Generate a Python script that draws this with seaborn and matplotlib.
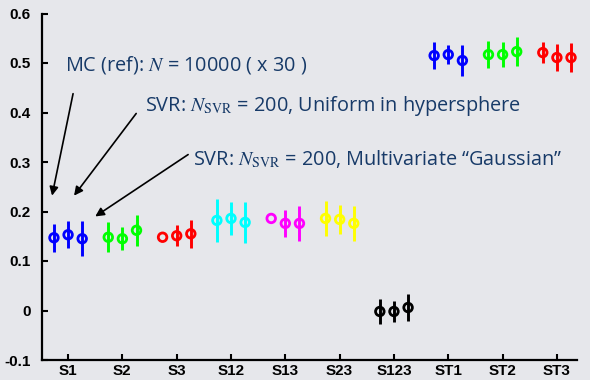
import matplotlib
matplotlib.use("Agg")
import matplotlib.pyplot as plt
import pandas as pd
import seaborn as sns

# Sensitivity indices and their colours
indices = ["S1", "S2", "S3", "S12", "S13", "S23", "S123", "ST1", "ST2", "ST3"]
colors = ["#0000ff", "#00ff00", "#ff0000", "#00ffff", "#ff00ff",
          "#ffff00", "#000000", "#0000ff", "#00ff00", "#ff0000"]

# Estimates (mean) and half-width of the spread for each method
mc_mean = [0.147, 0.148, 0.148, 0.182, 0.186, 0.186, -0.002, 0.515, 0.517, 0.521]
mc_err = [0.028, 0.030, 0.000, 0.043, 0.000, 0.035, 0.026, 0.028, 0.027, 0.022]
uni_mean = [0.153, 0.145, 0.151, 0.186, 0.176, 0.184, -0.002, 0.517, 0.517, 0.511]
uni_err = [0.027, 0.023, 0.021, 0.033, 0.028, 0.030, 0.021, 0.019, 0.026, 0.028]
gau_mean = [0.145, 0.162, 0.155, 0.178, 0.176, 0.176, 0.006, 0.505, 0.523, 0.511]
gau_err = [0.035, 0.031, 0.028, 0.042, 0.036, 0.035, 0.028, 0.031, 0.029, 0.029]

y_ticks = [-0.1, 0.0, 0.1, 0.2, 0.3, 0.4, 0.5, 0.6]
y_tick_labels = ["-0.1", "0", "0.1", "0.2", "0.3", "0.4", "0.5", "0.6"]

methods = ["mc", "uniform", "gauss"]
offsets = {"mc": -0.26, "uniform": 0.0, "gauss": 0.26}

rows = []
for m, means, errs in zip(methods, [mc_mean, uni_mean, gau_mean], [mc_err, uni_err, gau_err]):
    for i, (name, v, e) in enumerate(zip(indices, means, errs)):
        rows.append({"index": name, "method": m, "pos": i + 1 + offsets[m],
                     "value": v, "err": e})
df = pd.DataFrame(rows)

sns.set_theme(style="white")
bg = "#e6e7eb"
plt.rcParams["mathtext.fontset"] = "stix"

fig = plt.figure(figsize=(5.9, 3.8), dpi=100, facecolor=bg)
ax = fig.add_axes([42 / 590, 20 / 380, 535 / 590, 346.5 / 380])
ax.set_facecolor(bg)

palette = dict(zip(indices, colors))

# error bars
for _, r in df.iterrows():
    if r["err"] > 0:
        ax.vlines(r["pos"], r["value"] - r["err"], r["value"] + r["err"],
                  color=palette[r["index"]], lw=2.1, zorder=2)

# circle markers, coloured by index, then made hollow
sns.scatterplot(data=df, x="pos", y="value", hue="index", palette=palette,
                marker="o", s=38, linewidth=2.0, legend=False, ax=ax, zorder=3)
pts = ax.collections[-1]
fc = pts.get_facecolors()
pts.set_edgecolors(fc)
pts.set_facecolors("none")

ax.set_xlim(0.52, 10.37)
ax.set_ylim(-0.1, 0.6)
ax.set_xticks(range(1, len(indices) + 1))
ax.set_xticklabels(indices)
ax.set_yticks(y_ticks)
ax.set_yticklabels(y_tick_labels)
ax.set_xlabel("")
ax.set_ylabel("")

for side in ["top", "right"]:
    ax.spines[side].set_visible(False)
for side in ["left", "bottom"]:
    ax.spines[side].set_color("black")
    ax.spines[side].set_linewidth(1.6)

ax.tick_params(axis="both", direction="in", length=4, width=1.5, color="black",
               labelcolor="black", labelsize=11, left=True, bottom=True)
ax.tick_params(axis="y", pad=8)
ax.tick_params(axis="x", pad=3)
for lab in ax.get_xticklabels() + ax.get_yticklabels():
    lab.set_fontweight("bold")
    lab.set_family("Liberation Sans")

# annotations
txt_color = "#173a68"
txt_kw = dict(color=txt_color, fontsize=14.3, family="Open Sans", va="center", ha="left")
arrow_kw = dict(arrowstyle="-|>", color="black", lw=1.2, mutation_scale=13,
                shrinkA=0, shrinkB=0)

ax.text(0.945, 0.495, r"MC (ref): $N$ = 10000 ( x 30 )", **txt_kw)
ax.text(2.42, 0.414, r"SVR: $N_{\mathrm{SVR}}$ = 200, Uniform in hypersphere", **txt_kw)
ax.text(3.30, 0.307, r"SVR: $N_{\mathrm{SVR}}$ = 200, Multivariate “Gaussian”", **txt_kw)

ax.annotate("", xy=(0.705, 0.232), xytext=(1.092, 0.438), arrowprops=arrow_kw)
ax.annotate("", xy=(1.11, 0.232), xytext=(2.254, 0.398), arrowprops=arrow_kw)
ax.annotate("", xy=(1.50, 0.190), xytext=(3.21, 0.315), arrowprops=arrow_kw)

fig.savefig("out.png", dpi=100, facecolor=bg)
